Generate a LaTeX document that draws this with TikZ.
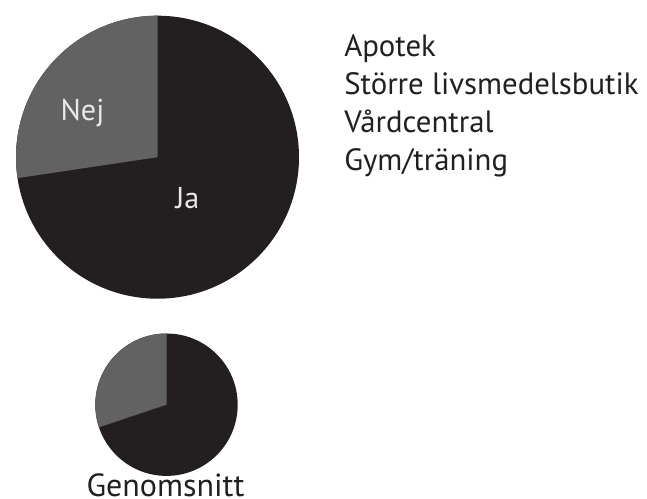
\documentclass[tikz,border=0pt]{standalone}
\usepackage{fontspec}
\setmainfont{PT Sans}
\definecolor{jadark}{HTML}{231F20}
\definecolor{nejgray}{HTML}{626262}
\definecolor{labellight}{HTML}{E8E8E8}
\tikzset{
  ja slice/.style={fill=jadark},
  nej slice/.style={fill=nejgray},
  pie label/.style={text=labellight,font=\fontsize{22.6}{26}\selectfont},
  legend text/.style={text=jadark,font=\fontsize{23.1}{27}\selectfont}
}
\begin{document}
\begin{tikzpicture}[x=0.75pt,y=0.75pt,yscale=-1,xscale=1]
\path[use as bounding box] (0,0) rectangle (647,499);

%Shape: Pie [big]
\coordinate (big) at (157.5,157.2);
\fill[ja slice] (big) circle (141.5);
\fill[nej slice] (big) -- ++(171.5:141.5) arc[start angle=171.5, end angle=270, radius=141.5] -- cycle;
%Shape: Pie [small]
\coordinate (small) at (166.5,404.7);
\fill[ja slice] (small) circle (71.2);
\fill[nej slice] (small) -- ++(161.5:71.2) arc[start angle=161.5, end angle=270, radius=71.2] -- cycle;

% Text Node
\draw (82.5,120.7) node (nej) [anchor=base][inner sep=0.75pt] [pie label] {Nej};
% Text Node
\draw (187.5,209) node (ja) [anchor=base][inner sep=0.75pt] [pie label] {Ja};
% Text Node
\draw (343,56.5) node (apotek) [anchor=base west][inner sep=0.75pt] [legend text] {Apotek};
% Text Node
\draw (343,94.5) node (butik) [anchor=base west][inner sep=0.75pt] [legend text] {Större livsmedelsbutik};
% Text Node
\draw (343,132.5) node (vard) [anchor=base west][inner sep=0.75pt] [legend text] {Vårdcentral};
% Text Node
\draw (343,170.5) node (gym) [anchor=base west][inner sep=0.75pt] [legend text] {Gym/träning};
% Text Node
\draw (165.5,496.5) node (snitt) [anchor=base][inner sep=0.75pt] [legend text,font=\fontsize{24}{28}\selectfont] {Genomsnitt};

\end{tikzpicture}
\end{document}
